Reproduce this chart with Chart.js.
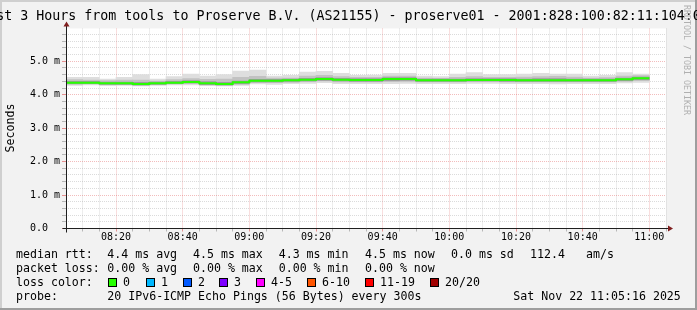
<!DOCTYPE html>
<html><head><meta charset="utf-8">
<script src="https://cdn.jsdelivr.net/npm/chart.js@4/dist/chart.umd.min.js"></script>
<style>
html,body{margin:0;padding:0;background:#f2f2f2;}
canvas{display:block;}
</style></head><body>
<canvas id="c" width="697" height="310"></canvas>
<script>
// ---- data ----
const axisStart = '08:05';
const axisEnd = '11:05';
const intervalEnds = ['08:10','08:15','08:20','08:25','08:30','08:35','08:40','08:45','08:50','08:55',
  '09:00','09:05','09:10','09:15','09:20','09:25','09:30','09:35','09:40','09:45',
  '09:50','09:55','10:00','10:05','10:10','10:15','10:20','10:25','10:30','10:35',
  '10:40','10:45','10:50','10:55','11:00'];
const medianRtt = [4.36,4.36,4.34,4.34,4.32,4.34,4.36,4.38,4.34,4.32,
  4.37,4.42,4.42,4.43,4.45,4.47,4.45,4.44,4.44,4.47,
  4.47,4.43,4.43,4.43,4.44,4.44,4.44,4.43,4.43,4.43,
  4.43,4.43,4.43,4.46,4.49];
const smokeMax = [4.52,4.52,4.47,4.52,4.60,4.47,4.54,4.62,4.56,4.60,
  4.71,4.74,4.56,4.58,4.68,4.70,4.64,4.58,4.59,4.64,
  4.64,4.56,4.54,4.62,4.66,4.60,4.60,4.62,4.64,4.62,
  4.62,4.56,4.58,4.66,4.62];
const smokeMin = [4.28,4.29,4.27,4.28,4.26,4.28,4.29,4.29,4.27,4.26,
  4.28,4.32,4.31,4.33,4.34,4.36,4.33,4.33,4.33,4.33,
  4.34,4.33,4.33,4.33,4.34,4.34,4.33,4.33,4.33,4.32,
  4.33,4.33,4.33,4.35,4.37];
const midHigh = [4.45,4.44,4.42,4.44,4.44,4.41,4.45,4.48,4.46,4.47,
  4.52,4.55,4.50,4.50,4.56,4.58,4.54,4.52,4.52,4.56,
  4.56,4.50,4.49,4.52,4.54,4.52,4.52,4.53,4.54,4.55,
  4.53,4.50,4.51,4.56,4.57];
const midLow = [4.31,4.32,4.30,4.30,4.28,4.31,4.32,4.33,4.29,4.28,
  4.31,4.36,4.36,4.37,4.39,4.41,4.38,4.38,4.38,4.39,
  4.40,4.38,4.38,4.38,4.39,4.39,4.38,4.38,4.38,4.38,
  4.38,4.38,4.38,4.40,4.42];
const darkHigh = [4.40,4.40,4.38,4.38,4.37,4.38,4.40,4.42,4.39,4.37,
  4.41,4.46,4.46,4.47,4.49,4.51,4.49,4.48,4.48,4.51,
  4.51,4.47,4.47,4.47,4.48,4.48,4.48,4.47,4.48,4.48,
  4.47,4.47,4.47,4.50,4.53];
const darkLow = [4.33,4.33,4.31,4.31,4.29,4.31,4.33,4.35,4.30,4.29,
  4.33,4.38,4.38,4.40,4.41,4.43,4.41,4.40,4.40,4.42,
  4.43,4.40,4.40,4.40,4.41,4.41,4.40,4.40,4.40,4.40,
  4.40,4.40,4.40,4.42,4.45];
const xTickLabels = ['08:20','08:40','09:00','09:20','09:40','10:00','10:20','10:40','11:00'];
const yTickLabels = ['0.0','1.0 m','2.0 m','3.0 m','4.0 m','5.0 m'];
const yMax = 5.98;
const titleText = 'Last 3 Hours from tools to Proserve B.V. (AS21155) - proserve01 - 2001:828:100:82:11:104:0:1';
const yTitle = 'Seconds';
const statRows = [
  ['median rtt:', '4.4 ms avg', '4.5 ms max', '4.3 ms min', '4.5 ms now', '0.0 ms sd', '112.4', 'am/s'],
  ['packet loss:', '0.00 % avg', '0.00 % max', '0.00 % min', '0.00 % now']
];
const lossLabels = ['0','1','2','3','4-5','6-10','11-19','20/20'];
const lossColors = ['#26ff00','#00b8ff','#0059ff','#7e00ff','#ff00ff','#ff5500','#ff0000','#a10000'];
const probeText = '20 IPv6-ICMP Echo Pings (56 Bytes) every 300s';
const dateText = 'Sat Nov 22 11:05:16 2025';
const watermark = 'RRDTOOL / TOBI OETIKER';

// ---- helpers ----
function clockMin(s){ const p = s.split(':'); return (+p[0])*60 + (+p[1]); }
const base = clockMin(axisStart);
const span = clockMin(axisEnd) - base;
const step = clockMin(intervalEnds[1]) - clockMin(intervalEnds[0]);
function fmt(v){ const t = base + v; const h = Math.floor(t/60), m = Math.round(t%60);
  return String(h).padStart(2,'0') + ':' + String(m).padStart(2,'0'); }
function bars(lo, hi){ return intervalEnds.map((t,i)=>({x: clockMin(t)-base-step/2, y:[lo[i], hi[i]]})); }
const medianPts = [{x:0, y:medianRtt[0]}].concat(intervalEnds.map((t,i)=>({x: clockMin(t)-base, y: medianRtt[i]})));
function isMajorX(v){ return xTickLabels.includes(fmt(v)); }
function isMajorY(v){ return Math.abs(v - Math.round(v)) < 1e-6; }
const GRID = 'rgba(143,143,143,0.32)';
const MGRID = 'rgba(222,79,79,0.38)';
const MONO = '"DejaVu Sans Mono", monospace';

const deco = {
  id: 'deco',
  beforeDraw(chart){
    const {ctx, chartArea:a} = chart;
    const W = chart.width, H = chart.height;
    ctx.save();
    ctx.fillStyle = '#f2f2f2'; ctx.fillRect(0,0,W,H);
    ctx.fillStyle = '#cfcfcf'; ctx.fillRect(0,0,W,2); ctx.fillRect(0,0,2,H);
    ctx.fillStyle = '#9e9e9e'; ctx.fillRect(0,H-2,W,2); ctx.fillRect(W-2,0,2,H);
    ctx.fillStyle = '#ffffff'; ctx.fillRect(a.left, a.top, a.right-a.left, a.bottom-a.top);
    ctx.restore();
  },
  afterDraw(chart){
    const {ctx, chartArea:a} = chart;
    const W = chart.width;
    ctx.save();
    // axes
    const ox = Math.round(a.left) + 0.5, oy = Math.floor(a.bottom) + 0.5;
    ctx.strokeStyle = '#1f1f1f'; ctx.lineWidth = 1;
    ctx.beginPath(); ctx.moveTo(ox-4, oy); ctx.lineTo(a.right+4, oy); ctx.stroke();
    ctx.beginPath(); ctx.moveTo(ox, oy+4); ctx.lineTo(ox, a.top-4); ctx.stroke();
    ctx.fillStyle = '#801f1f';
    ctx.beginPath(); ctx.moveTo(a.right+2, oy-3); ctx.lineTo(a.right+2, oy+3); ctx.lineTo(a.right+7, oy); ctx.closePath(); ctx.fill();
    ctx.beginPath(); ctx.moveTo(ox-3, a.top-2); ctx.lineTo(ox+3, a.top-2); ctx.lineTo(ox, a.top-7); ctx.closePath(); ctx.fill();
    // title
    ctx.fillStyle = '#000';
    ctx.font = '13.3px ' + MONO; ctx.textAlign = 'center'; ctx.textBaseline = 'middle';
    ctx.fillText(titleText, W/2, 16.5);
    // y title
    ctx.save(); ctx.translate(10.5, 128); ctx.rotate(-Math.PI/2);
    ctx.font = '11.6px ' + MONO; ctx.fillText(yTitle, 0, 0); ctx.restore();
    // watermark
    ctx.save(); ctx.translate(686, 5); ctx.rotate(Math.PI/2);
    ctx.fillStyle = '#b0b0b0'; ctx.font = '8.3px ' + MONO; ctx.textAlign = 'left'; ctx.textBaseline = 'middle';
    ctx.fillText(watermark, 0, 0); ctx.restore();
    // legend
    ctx.font = '11.6px ' + MONO; ctx.textAlign = 'left'; ctx.textBaseline = 'middle'; ctx.fillStyle = '#000';
    const rowY = [254.5, 268.5, 282.5, 296.5];
    const colX = [16, 107.3, 193, 278.7, 365, 451, 530, 586];
    statRows.forEach((r, ri) => r.forEach((s, ci) => ctx.fillText(s, colX[ci], rowY[ri])));
    ctx.fillText('loss color:', 16, rowY[2]);
    const boxX = [108.3, 145.7, 182.7, 219.3, 256, 306.7, 365, 430];
    lossLabels.forEach((l, i) => {
      const bx = Math.round(boxX[i]);
      ctx.fillStyle = lossColors[i]; ctx.fillRect(bx, 278, 9, 9);
      ctx.strokeStyle = '#000'; ctx.lineWidth = 1; ctx.strokeRect(bx+0.5, 278.5, 8, 8);
      ctx.fillStyle = '#000'; ctx.fillText(l, bx + 15, rowY[2]);
    });
    ctx.fillText('probe:', 16, rowY[3]);
    ctx.fillText(probeText, 107.3, rowY[3]);
    ctx.fillText(dateText, 513.3, rowY[3]);
    ctx.restore();
  }
};

const barCommon = {grouped:false, barPercentage:1, categoryPercentage:1, borderWidth:0, borderSkipped:false};
new Chart(document.getElementById('c'), {
  type: 'bar',
  data: { datasets: [
    {type:'line', label:'median rtt', data: medianPts, stepped:'after', borderColor:'#26ff00', borderWidth:2,
     pointRadius:0, fill:false, tension:0, order:0},
    Object.assign({label:'smoke inner', data: bars(darkLow, darkHigh), backgroundColor:'#9c9c9c', order:1}, barCommon),
    Object.assign({label:'smoke mid', data: bars(midLow, midHigh), backgroundColor:'#c2c2c2', order:2}, barCommon),
    Object.assign({label:'smoke outer', data: bars(smokeMin, smokeMax), backgroundColor:'#dedede', order:3}, barCommon)
  ]},
  options: {
    responsive:false, animation:false, events:[],
    layout:{padding:{left:0, right:31, top:28.5, bottom:61.5}},
    plugins:{legend:{display:false}, tooltip:{enabled:false}, title:{display:false}},
    scales:{
      x:{type:'linear', min:0, max:span, offset:false,
        afterFit(s){ s.height = 20; },
        ticks:{stepSize:step, autoSkip:false, maxRotation:0, minRotation:0, padding:0, color:'#000',
          font:{family:MONO, size:10}, callback(v){ return isMajorX(v) ? fmt(v) : ''; }},
        grid:{offset:false, lineWidth:1, tickLength:3, tickBorderDash:[],
          color(c){ return (c.tick && isMajorX(c.tick.value)) ? MGRID : GRID; },
          tickColor(c){ return (c.tick && isMajorX(c.tick.value)) ? 'rgba(222,79,79,0.6)' : 'rgba(143,143,143,0.6)'; }},
        border:{display:false, dash:[1,1]}
      },
      y:{type:'linear', min:0, max:yMax,
        afterFit(s){ s.width = 66; },
        ticks:{stepSize:0.2, includeBounds:false, autoSkip:false, padding:2, color:'#000',
          font:{family:MONO, size:10},
          callback(v){ return isMajorY(v) ? yTickLabels[Math.round(v)].padEnd(5, ' ') : ''; }},
        grid:{lineWidth:1, tickLength:4, tickBorderDash:[],
          color(c){ return (c.tick && isMajorY(c.tick.value)) ? MGRID : GRID; },
          tickColor(c){ return (c.tick && isMajorY(c.tick.value)) ? 'rgba(222,79,79,0.6)' : 'rgba(143,143,143,0.6)'; }},
        border:{display:false, dash:[1,1]}
      }
    }
  },
  plugins:[deco]
});
</script>
</body></html>
